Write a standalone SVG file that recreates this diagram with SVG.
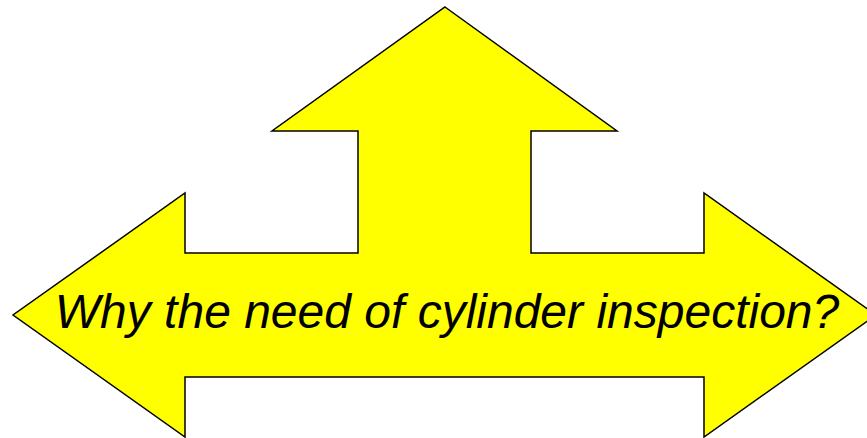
<svg xmlns="http://www.w3.org/2000/svg" width="867" height="438" viewBox="0 0 867 438">
<style>
.shape{fill:#ffff00;stroke:#000000;stroke-width:1.5;stroke-linejoin:miter}
.lbl{font-family:"Liberation Sans",Arial,sans-serif;font-style:italic;font-size:48px;fill:#000000}
</style>
<rect width="867" height="438" fill="#ffffff"/>
<g id="arrow">
<polygon class="shape" points="445,7 617,131 531,131 531,253 704,253 704,193 876,315 704,437 704,377 185,377 185,437 13,315 185,193 185,253 358,253 358,131 272,131"/>
</g>
<g id="label">
<text class="lbl" x="447" y="328" text-anchor="middle">Why the need of cylinder inspection?</text>
</g>
</svg>
